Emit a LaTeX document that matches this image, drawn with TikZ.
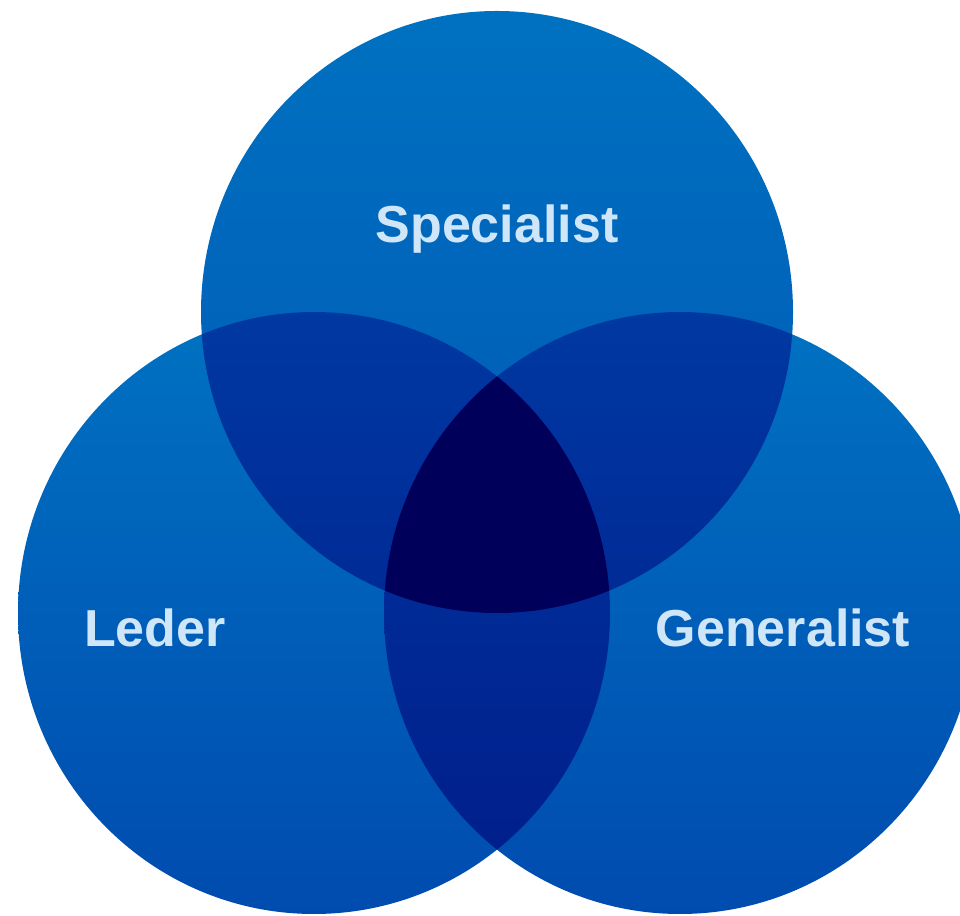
\documentclass[tikz,border=0pt]{standalone}
\usepackage{fontspec}
\setmainfont{Liberation Sans}
\definecolor{ctop}{HTML}{0072C2}
\definecolor{cbot}{HTML}{004BAF}
\definecolor{ttop}{HTML}{0071C1}
\definecolor{tbot}{HTML}{0058B4}
\definecolor{ptop}{HTML}{0038A2}
\definecolor{pbot}{HTML}{001C8A}
\definecolor{triple}{HTML}{00005A}
\definecolor{lbl}{HTML}{CFE6F8}
\tikzset{
  lab/.style={text=lbl, font=\fontsize{52}{52}\selectfont\bfseries, anchor=base, inner sep=0pt},
  circ/.style={x radius=296, y radius=301}
}
\begin{document}
\begin{tikzpicture}[x=1pt,y=1pt]
\useasboundingbox (0,0) rectangle (960,915);
\coordinate (T) at (497,603);
\coordinate (L) at (314,302);
\coordinate (R) at (680,302);
% single circles
\shade[top color=ttop, bottom color=tbot] (T) ellipse [circ];
\shade[top color=ctop, bottom color=cbot] (L) ellipse [circ];
\shade[top color=ctop, bottom color=cbot] (R) ellipse [circ];
% pairwise overlaps
\begin{scope}
  \clip (T) ellipse [circ];
  \shade[top color=ptop, bottom color=pbot] (L) ellipse [circ];
  \shade[top color=ptop, bottom color=pbot] (R) ellipse [circ];
\end{scope}
\begin{scope}
  \clip (L) ellipse [circ];
  \shade[top color=ptop, bottom color=pbot] (R) ellipse [circ];
\end{scope}
% triple overlap
\begin{scope}
  \clip (T) ellipse [circ];
  \clip (L) ellipse [circ];
  \fill[triple] (R) ellipse [circ];
\end{scope}
% labels
\node[lab] (spec) at (497,672) {Specialist};
\node[lab] (led) at (155,268) {Leder};
\node[lab] (gen) at (783,268) {Generalist};
\end{tikzpicture}
\end{document}
